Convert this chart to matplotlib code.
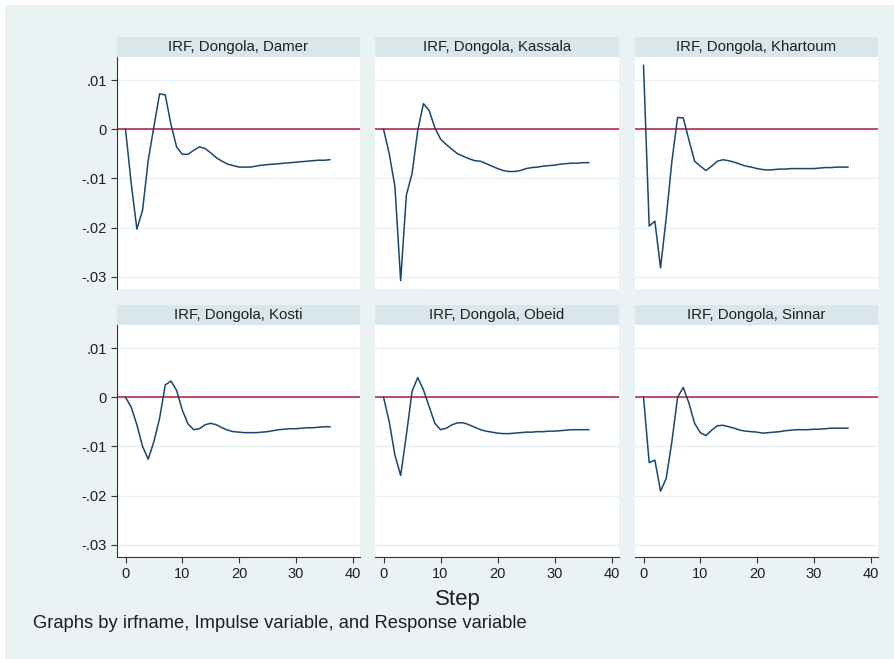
import matplotlib
matplotlib.use("Agg")
import matplotlib.pyplot as plt
from matplotlib.patches import Rectangle
import numpy as np

plt.rcParams['font.family'] = ['Liberation Sans', 'DejaVu Sans']

steps = np.arange(37)

titles = ['IRF, Dongola, Damer', 'IRF, Dongola, Kassala', 'IRF, Dongola, Khartoum',
          'IRF, Dongola, Kosti', 'IRF, Dongola, Obeid', 'IRF, Dongola, Sinnar']

damer = [0, -0.011, -0.0203, -0.0165, -0.0063, 0.0005, 0.0072, 0.0070, 0.0010, -0.0036,
         -0.0051, -0.0051, -0.0043, -0.0036, -0.0039, -0.0048, -0.0058, -0.0065, -0.0071,
         -0.0074, -0.0077, -0.0077, -0.0077, -0.0075, -0.0073, -0.0072, -0.0071, -0.0070,
         -0.0069, -0.0068, -0.0067, -0.0066, -0.0065, -0.0064, -0.0063, -0.0063, -0.0062]
kassala = [0, -0.0050, -0.0117, -0.0308, -0.0134, -0.0090, -0.0002, 0.0052, 0.0038, 0.0003,
           -0.0020, -0.0031, -0.0041, -0.0050, -0.0055, -0.0060, -0.0064, -0.0065, -0.0070,
           -0.0075, -0.0080, -0.0084, -0.0086, -0.0086, -0.0084, -0.0080, -0.0078, -0.0077,
           -0.0075, -0.0074, -0.0073, -0.0071, -0.0070, -0.0069, -0.0069, -0.0068, -0.0068]
khartoum = [0.0130, -0.0197, -0.0187, -0.0282, -0.0180, -0.0065, 0.0024, 0.0023, -0.0022,
            -0.0065, -0.0075, -0.0084, -0.0075, -0.0065, -0.0062, -0.0064, -0.0067, -0.0071,
            -0.0075, -0.0077, -0.0080, -0.0082, -0.0083, -0.0082, -0.0081, -0.0081, -0.0080,
            -0.0080, -0.0080, -0.0080, -0.0080, -0.0079, -0.0078, -0.0078, -0.0077, -0.0077,
            -0.0077]
kosti = [0, -0.0020, -0.0056, -0.0100, -0.0126, -0.0090, -0.0043, 0.0025, 0.0033, 0.0014,
         -0.0026, -0.0054, -0.0066, -0.0064, -0.0056, -0.0053, -0.0056, -0.0062, -0.0067,
         -0.0070, -0.0071, -0.0072, -0.0072, -0.0072, -0.0071, -0.0070, -0.0068, -0.0066,
         -0.0065, -0.0064, -0.0064, -0.0063, -0.0062, -0.0062, -0.0061, -0.0060, -0.0060]
obeid = [0, -0.0050, -0.0118, -0.0159, -0.0077, 0.0012, 0.0040, 0.0015, -0.0019, -0.0053,
         -0.0066, -0.0063, -0.0056, -0.0052, -0.0052, -0.0056, -0.0061, -0.0066, -0.0069,
         -0.0071, -0.0073, -0.0074, -0.0074, -0.0073, -0.0072, -0.0071, -0.0071, -0.0070,
         -0.0070, -0.0069, -0.0069, -0.0068, -0.0067, -0.0066, -0.0066, -0.0066, -0.0066]
sinnar = [0, -0.0133, -0.0128, -0.0191, -0.0165, -0.0090, 0.0000, 0.0020, -0.0012, -0.0053,
          -0.0072, -0.0078, -0.0067, -0.0058, -0.0057, -0.0060, -0.0063, -0.0067, -0.0069,
          -0.0070, -0.0071, -0.0073, -0.0072, -0.0071, -0.0070, -0.0068, -0.0067, -0.0066,
          -0.0066, -0.0066, -0.0065, -0.0065, -0.0064, -0.0063, -0.0063, -0.0063, -0.0063]
series = [damer, kassala, khartoum, kosti, obeid, sinnar]

yticks = [0.01, 0, -0.01, -0.02, -0.03]
yticklabels = ['.01', '0', '-.01', '-.02', '-.03']
xticks = [0, 10, 20, 30, 40]

BG = '#eaf2f3'
STRIP = '#d9e6eb'
NAVY = '#1a476f'
ZERO = '#b01a3c'

W, H = 895, 659
fig = plt.figure(figsize=(W / 100, H / 100), dpi=100)
fig.patch.set_facecolor('white')
# light panel background, white margin only along top and left edges
fig.patches.append(Rectangle((5 / W, 0), (W - 5) / W, (H - 5) / H,
                             transform=fig.transFigure, facecolor=BG, edgecolor='none', zorder=-10))

col_x = [(117, 360), (375, 619), (635, 878)]
row_y = [(37, 57, 289), (305, 325, 557)]


def fx(px):
    return px / W


def fy(py):
    return 1 - py / H


for i, (title, vals) in enumerate(zip(titles, series)):
    r, c = divmod(i, 3)
    x0, x1 = col_x[c]
    s0, p0, p1 = row_y[r]
    fig.patches.append(Rectangle((fx(x0), fy(p0)), fx(x1 - x0), (p0 - s0) / H,
                                 transform=fig.transFigure, facecolor=STRIP, edgecolor='none', zorder=-5))
    fig.text(fx((x0 + x1) / 2), fy((s0 + p0) / 2), title, ha='center', va='center',
             fontsize=10.8, color='#1f1f1f')
    ax = fig.add_axes([fx(x0), fy(p1), fx(x1 - x0), (p1 - p0) / H])
    ax.set_facecolor('white')
    ax.set_xlim(-1.5, 41.3)
    ax.set_ylim(-0.0325, 0.0147)
    for yt in yticks:
        ax.axhline(yt, color=BG, lw=1, zorder=1)
    ax.axhline(0, color=ZERO, lw=1.1, zorder=2)
    ax.plot(steps, vals, color=NAVY, lw=1.1, zorder=3)
    for s in ['top', 'right']:
        ax.spines[s].set_visible(False)
    ax.spines['left'].set_visible(c == 0)
    ax.spines['bottom'].set_visible(r == 1)
    ax.spines['left'].set_color('#333333')
    ax.spines['bottom'].set_color('#333333')
    ax.set_yticks(yticks)
    ax.set_xticks(xticks)
    ax.tick_params(colors='#333333', labelcolor='#1f1f1f', labelsize=10.5, length=4, width=0.8)
    if c == 0:
        ax.set_yticklabels(yticklabels)
    else:
        ax.tick_params(axis='y', left=False, labelleft=False)
    if r != 1:
        ax.tick_params(axis='x', bottom=False, labelbottom=False)

fig.text(fx(458), fy(600), 'Step', ha='center', va='center', fontsize=16, color='#1f1f1f')
fig.text(fx(33), fy(624), 'Graphs by irfname, Impulse variable, and Response variable',
         ha='left', va='center', fontsize=13.2, color='#1f1f1f')

fig.savefig('out.png', dpi=100, facecolor=fig.get_facecolor())
